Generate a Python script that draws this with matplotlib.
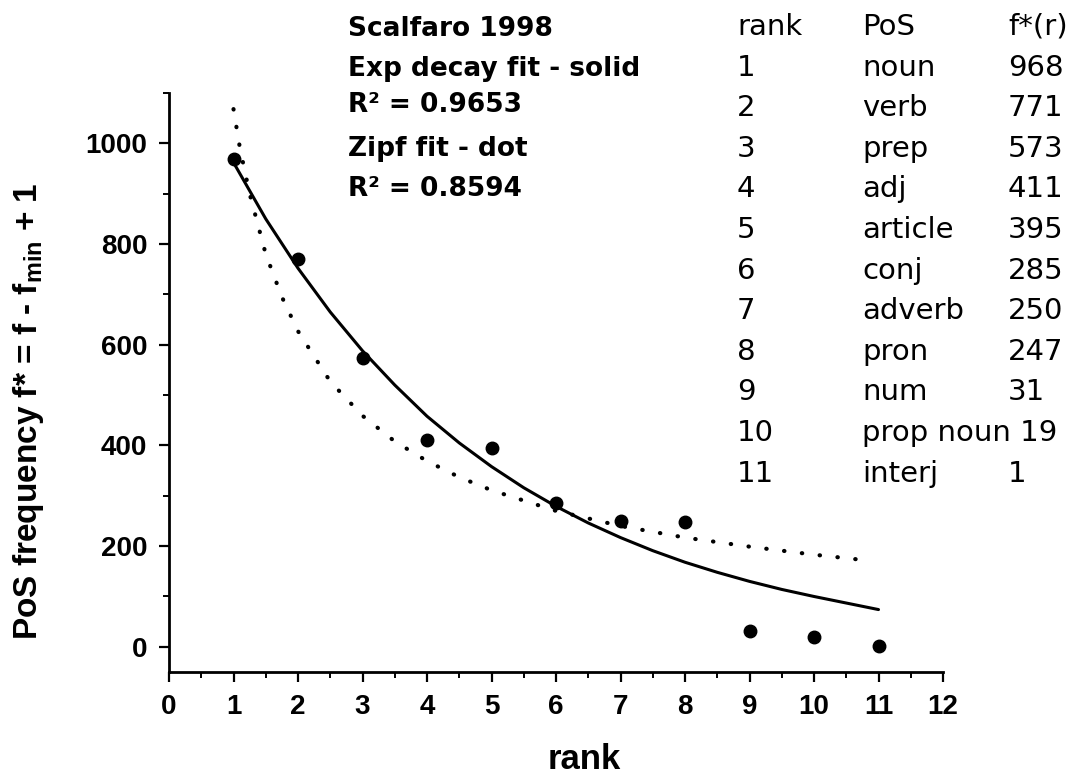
import matplotlib
matplotlib.use("Agg")
import matplotlib.pyplot as plt
from matplotlib.ticker import MultipleLocator

# ---- data ----
ranks = [1, 2, 3, 4, 5, 6, 7, 8, 9, 10, 11]
pos_names = ["noun", "verb", "prep", "adj", "article", "conj", "adverb",
             "pron", "num", "prop noun", "interj"]
freq = [968, 771, 573, 411, 395, 285, 250, 247, 31, 19, 1]

# exponential-decay fit curve
exp_x = [1, 1.5, 2, 2.5, 3, 3.5, 4, 4.5, 5, 5.5, 6, 6.5, 7, 7.5, 8, 8.5, 9, 9.5, 10, 10.5, 11]
exp_y = [962, 850, 752, 665, 588, 520, 458, 405, 358, 316, 279, 246, 217, 191, 168, 148, 130, 114, 100, 87, 74]

# Zipf fit curve
zipf_x = [1.0, 1.1, 1.25, 1.5, 1.75, 2, 2.5, 3, 3.5, 4, 4.5, 5, 6, 7, 8, 9, 10, 10.8]
zipf_y = [1068, 990, 900, 780, 695, 627, 527, 459, 408, 369, 337, 311, 270, 240, 217, 199, 183, 172]

notes = ["Scalfaro 1998", "Exp decay fit - solid", "R\u00b2 = 0.9653",
         "Zipf fit - dot", "R\u00b2 = 0.8594"]
table_header = ["rank", "PoS", "f*(r)"]

# ---- figure ----
W, H = 1078, 776
fig = plt.figure(figsize=(W / 100, H / 100), dpi=100)
plt.rcParams['font.family'] = ['Liberation Sans', 'DejaVu Sans']
plt.rcParams['mathtext.fontset'] = 'custom'
plt.rcParams['mathtext.rm'] = 'Liberation Sans:bold'
plt.rcParams['mathtext.bf'] = 'Liberation Sans:bold'

L, R, B, T = 169, 943, 672, 93
ax = fig.add_axes([L / W, 1 - B / H, (R - L) / W, (B - T) / H])

ax.plot(exp_x, exp_y, color='black', lw=2.2, solid_capstyle='round')
ax.plot(zipf_x, zipf_y, color='black', lw=3.0, linestyle=(0, (0.1, 4.2)),
        dash_capstyle='round')
ax.plot(ranks, freq, 'o', color='black', markersize=9)

ax.set_xlim(0, 12)
ax.set_ylim(-50, 1100)
ax.xaxis.set_major_locator(MultipleLocator(1))
ax.xaxis.set_minor_locator(MultipleLocator(0.5))
ax.yaxis.set_minor_locator(MultipleLocator(100))
ax.set_yticks([0, 200, 400, 600, 800, 1000])

for s in ['top', 'right']:
    ax.spines[s].set_visible(False)
for s in ['left', 'bottom']:
    ax.spines[s].set_linewidth(2.0)

ax.tick_params(which='major', direction='out', length=7.5, width=1.6,
               labelsize=20)
ax.tick_params(axis='y', which='major', pad=8)
ax.tick_params(axis='x', which='major', pad=8)
ax.tick_params(which='minor', direction='out', length=4, width=1.4)
for lab in ax.get_xticklabels() + ax.get_yticklabels():
    lab.set_fontweight('bold')

ax.set_xlabel('rank', fontsize=25, fontweight='bold')
ax.xaxis.set_label_coords((584.5 - L) / (R - L), (B - 743) / (B - T))
ax.set_ylabel(r'PoS frequency f* = f - f$_{\mathregular{min}}$ + 1',
              fontsize=24, fontweight='bold')
ax.yaxis.set_label_coords((46 - L) / (R - L), (B - 411) / (B - T))

# notes block
note_baselines = [36.5, 75.5, 111.5, 155.5, 196.5]
for t, yb in zip(notes, note_baselines):
    fig.text(348 / W, 1 - yb / H, t, fontsize=19, fontweight='bold',
             family='DejaVu Sans', ha='left', va='baseline')

# table block
col_x = [737, 862, 1008]
base0 = 35
dy = 40.6
tkw = dict(fontsize=21, family='DejaVu Sans', ha='left', va='baseline')
for j, h in enumerate(table_header):
    fig.text(col_x[j] / W, 1 - base0 / H, h, **tkw)
for i, (r, p, v) in enumerate(zip(ranks, pos_names, freq)):
    y = 1 - (base0 + (i + 1) * dy) / H
    fig.text(col_x[0] / W, y, str(r), **tkw)
    if len(p) > 7:
        fig.text(col_x[1] / W, y, f"{p} {v}", **tkw)
    else:
        fig.text(col_x[1] / W, y, p, **tkw)
        fig.text(col_x[2] / W, y, str(v), **tkw)

fig.savefig('out.png', dpi=100)
